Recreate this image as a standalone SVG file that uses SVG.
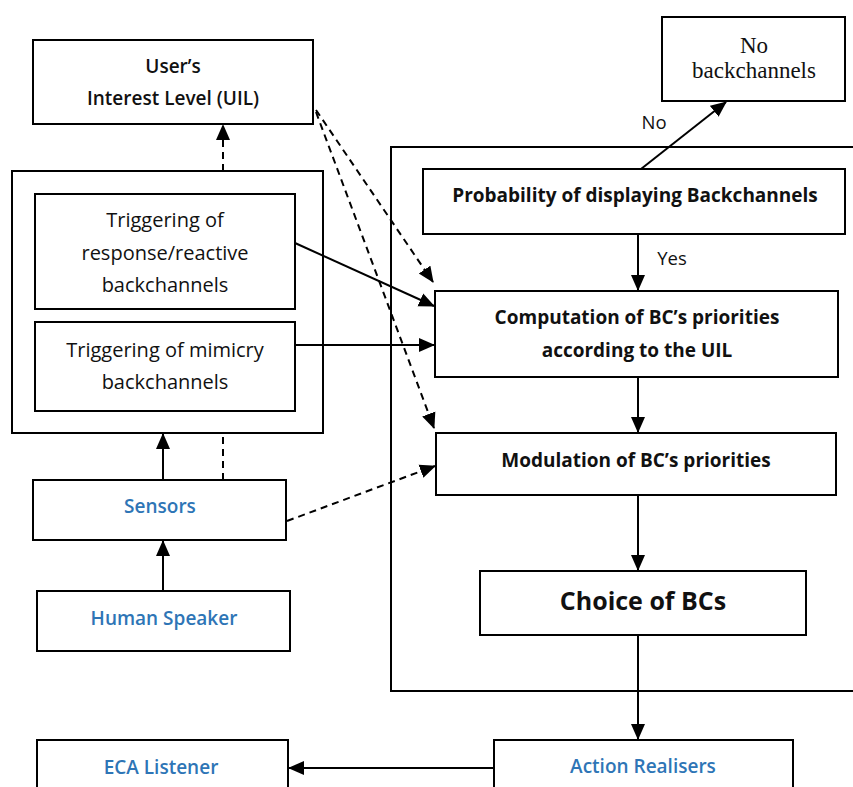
<svg xmlns="http://www.w3.org/2000/svg" width="853" height="787" viewBox="0 0 853 787">
<style>
rect{fill:#fff;stroke:#000;stroke-width:2}
.c{fill:none;stroke:#000;stroke-width:2}
.d{stroke-dasharray:7,5}
text{font-family:"Open Sans","Liberation Sans",sans-serif;text-anchor:middle;fill:#111}
.b{font-weight:bold;font-size:19px}
.u{font-weight:600;font-size:19px}
.r{font-size:20px}
.l{font-size:18.5px}
.blue{fill:#2e75b6;font-weight:600;font-size:19px}
.s{font-family:"Liberation Serif",serif;font-size:23px}
</style>
<defs>
<marker id="ab" markerWidth="16" markerHeight="16" refX="15" refY="8" orient="auto" markerUnits="userSpaceOnUse" viewBox="0 0 16 16"><path d="M0,1L16,8L0,15z" fill="#000"/></marker>
</defs>
<g id="outer-right"><rect x="391" y="147" width="470" height="544"/></g>
<g id="outer-left"><rect x="12" y="171" width="311" height="262"/></g>
<g id="uil"><rect x="33" y="40" width="280" height="84"/><text class="u" x="173" y="73">User’s</text><text class="u" x="173" y="105">Interest Level (UIL)</text></g>
<g id="trig-resp"><rect x="35" y="194" width="260" height="115"/><text class="r" x="165" y="227">Triggering of</text><text class="r" x="165" y="260">response/reactive</text><text class="r" x="165" y="292">backchannels</text></g>
<g id="trig-mim"><rect x="35" y="322" width="260" height="89"/><text class="r" x="165" y="357">Triggering of mimicry</text><text class="r" x="165" y="389">backchannels</text></g>
<g id="sensors"><rect x="33" y="480" width="253" height="60"/><text class="blue" x="160" y="513">Sensors</text></g>
<g id="human"><rect x="37" y="591" width="253" height="60"/><text class="blue" x="164" y="625">Human Speaker</text></g>
<g id="eca"><rect x="37" y="740" width="251" height="60"/><text class="blue" x="161" y="774">ECA Listener</text></g>
<g id="action"><rect x="494" y="740" width="299" height="60"/><text class="blue" x="643" y="773">Action Realisers</text></g>
<g id="nobc"><rect x="662" y="17" width="183" height="84"/><text class="s" x="754" y="53">No</text><text class="s" x="754" y="78">backchannels</text></g>
<g id="prob"><rect x="423" y="169" width="422" height="65"/><text class="b" x="635" y="202">Probability of displaying Backchannels</text></g>
<g id="comp"><rect x="435" y="291" width="403" height="86"/><text class="b" x="637" y="324">Computation of BC’s priorities</text><text class="b" x="637" y="357">according to the UIL</text></g>
<g id="mod"><rect x="436" y="433" width="400" height="62"/><text class="b" x="636" y="467">Modulation of BC’s priorities</text></g>
<g id="choice"><rect x="480" y="571" width="326" height="64"/><text x="643" y="610" style="font-weight:bold;font-size:25px">Choice of BCs</text></g>
<g id="connectors">
<line class="c d" x1="223" y1="171" x2="223" y2="125" marker-end="url(#ab)"/>
<line class="c" x1="163" y1="480" x2="163" y2="434" marker-end="url(#ab)"/>
<line class="c d" x1="223" y1="480" x2="223" y2="433"/>
<line class="c" x1="163" y1="591" x2="163" y2="541" marker-end="url(#ab)"/>
<line class="c" x1="295" y1="243" x2="434" y2="306" marker-end="url(#ab)"/>
<line class="c" x1="295" y1="345" x2="434" y2="345" marker-end="url(#ab)"/>
<line class="c d" x1="316" y1="110" x2="433" y2="282" marker-end="url(#ab)"/>
<line class="c d" x1="316" y1="112" x2="434" y2="428" marker-end="url(#ab)"/>
<line class="c d" x1="287" y1="521" x2="435" y2="466" marker-end="url(#ab)"/>
<line class="c" x1="641" y1="169" x2="726" y2="102" marker-end="url(#ab)"/>
<line class="c" x1="638" y1="234" x2="638" y2="290" marker-end="url(#ab)"/>
<line class="c" x1="638" y1="377" x2="638" y2="432" marker-end="url(#ab)"/>
<line class="c" x1="638" y1="495" x2="638" y2="570" marker-end="url(#ab)"/>
<line class="c" x1="638" y1="635" x2="638" y2="739" marker-end="url(#ab)"/>
<line class="c" x1="494" y1="768" x2="289" y2="768" marker-end="url(#ab)"/>
<text class="l" x="654" y="129">No</text>
<text class="l" x="672" y="265">Yes</text>
</g>
</svg>
